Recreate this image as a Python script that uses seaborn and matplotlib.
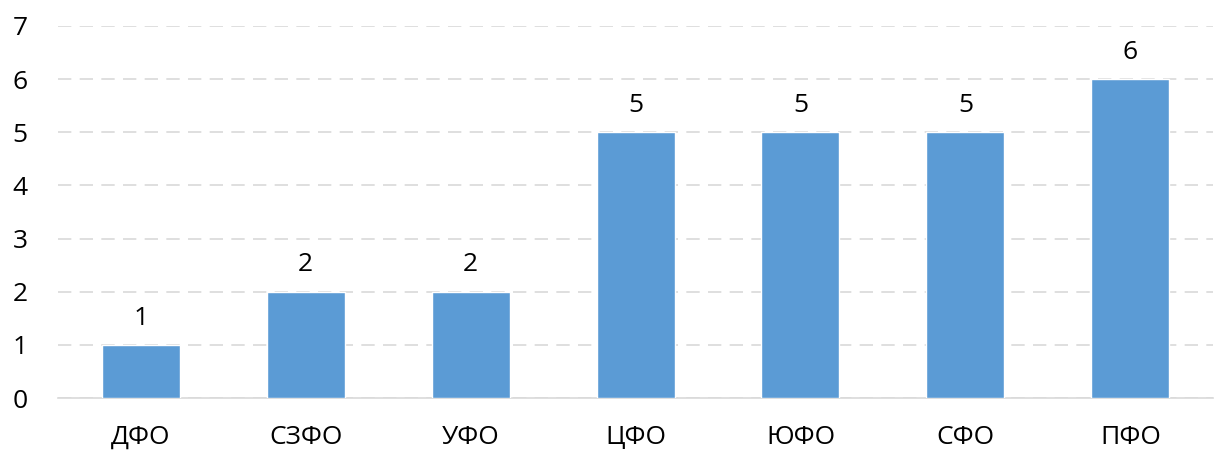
import matplotlib
matplotlib.use('Agg')
import matplotlib.pyplot as plt
import pandas as pd
import seaborn as sns

# Данные по федеральным округам
districts = ['ДФО', 'СЗФО', 'УФО', 'ЦФО', 'ЮФО', 'СФО', 'ПФО']
counts = [1, 2, 2, 5, 5, 5, 6]

df = pd.DataFrame({'district': districts, 'count': counts})

sns.set_style('white')
plt.rcParams['font.family'] = ['Open Sans', 'DejaVu Sans']

fig = plt.figure(figsize=(12.14, 4.54), dpi=100)
ax = fig.add_axes([0.048, 0.123, 0.951, 0.820])

sns.barplot(data=df, x='district', y='count', color='#5B9BD5', width=0.473,
            saturation=1, ax=ax, zorder=3)

for p, v in zip(ax.patches, counts):
    ax.text(p.get_x() + p.get_width() / 2, v + 0.27, str(v),
            ha='center', va='bottom', fontsize=19, color='#000000')

ax.set_ylim(0, 7)
ax.set_xlim(-0.5, len(districts) - 0.5)
ax.set_yticks(range(0, 8))
ax.yaxis.grid(True, color='#D9D9D9', linestyle=(0, (8, 5)), linewidth=1.2, zorder=0)
ax.set_xlabel('')
ax.set_ylabel('')
for s in ['top', 'right', 'left']:
    ax.spines[s].set_visible(False)
ax.spines['bottom'].set_color('#D9D9D9')
ax.spines['bottom'].set_linewidth(1.2)
ax.tick_params(axis='both', length=0, labelsize=19, colors='#000000')
ax.tick_params(axis='x', pad=19)
ax.tick_params(axis='y', pad=33)
for lbl in ax.get_yticklabels():
    lbl.set_horizontalalignment('left')

fig.savefig('out.png', dpi=100)
